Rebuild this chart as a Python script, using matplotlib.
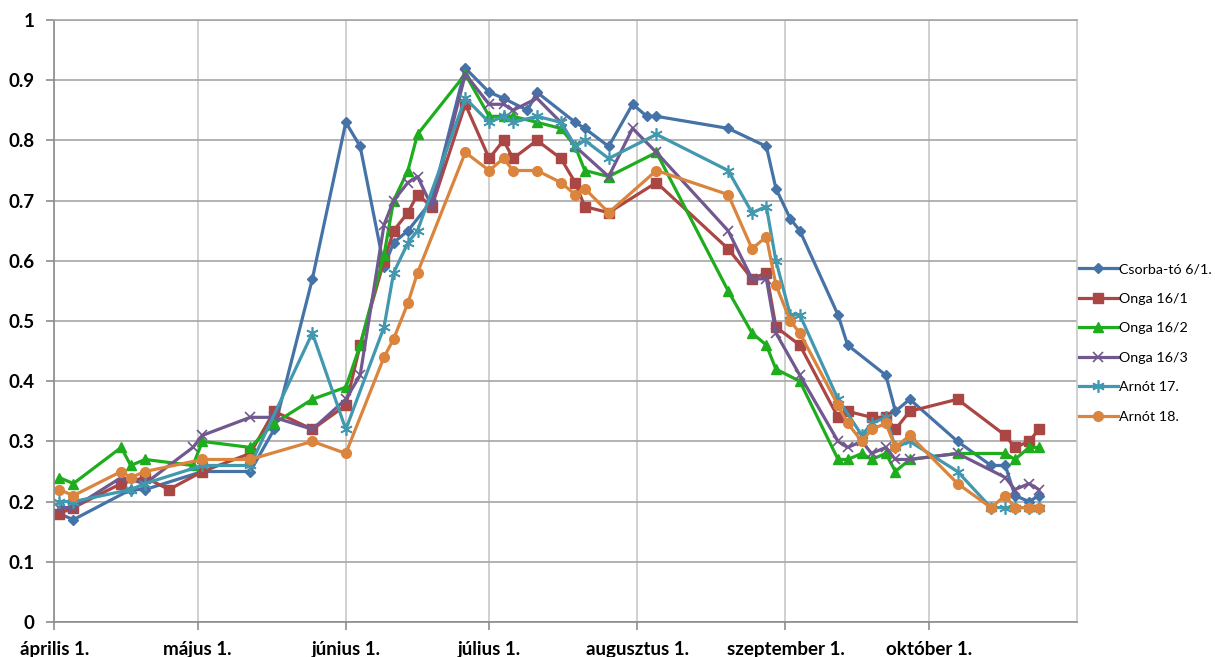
import numpy as np
import pandas as pd
import matplotlib
matplotlib.use("Agg")
import matplotlib.pyplot as plt
from matplotlib.ticker import FuncFormatter

plt.rcParams['font.family'] = ['Lato', 'DejaVu Sans']

# sampling dates (month-day)
dates = ["04-02", "04-05", "04-15", "04-17", "04-20", "04-25", "04-30", "05-02",
         "05-12", "05-17", "05-25", "06-01", "06-04", "06-09", "06-11", "06-14",
         "06-16", "06-19", "06-26", "07-01", "07-04", "07-06", "07-09", "07-11",
         "07-16", "07-19", "07-21", "07-26", "07-31", "08-03", "08-05", "08-20",
         "08-25", "08-28", "08-30", "09-02", "09-04", "09-12", "09-14", "09-17",
         "09-19", "09-22", "09-24", "09-27", "10-07", "10-14", "10-17", "10-19",
         "10-22", "10-24"]

N = None
csorba = [0.18, 0.17, N, 0.22, 0.22, N, N, 0.25, 0.25, 0.32, 0.57, 0.83, 0.79, 0.59,
          0.63, 0.65, N, 0.70, 0.92, 0.88, 0.87, N, 0.85, 0.88, N, 0.83, 0.82, 0.79,
          0.86, 0.84, 0.84, 0.82, N, 0.79, 0.72, 0.67, 0.65, 0.51, 0.46, N, N, 0.41,
          0.35, 0.37, 0.30, 0.26, 0.26, 0.21, 0.20, 0.21]
onga1 = [0.18, 0.19, 0.23, N, 0.24, 0.22, N, 0.25, 0.28, 0.35, 0.32, 0.36, 0.46, 0.60,
         0.65, 0.68, 0.71, 0.69, 0.86, 0.77, 0.80, 0.77, N, 0.80, 0.77, 0.73, 0.69, 0.68,
         N, N, 0.73, 0.62, 0.57, 0.58, 0.49, N, 0.46, 0.34, 0.35, N, 0.34, 0.34,
         0.32, 0.35, 0.37, N, 0.31, 0.29, 0.30, 0.32]
onga2 = [0.24, 0.23, 0.29, 0.26, 0.27, N, 0.26, 0.30, 0.29, 0.33, 0.37, 0.39, 0.46, 0.61,
         0.70, 0.75, 0.81, N, 0.91, 0.84, 0.84, 0.84, N, 0.83, 0.82, 0.79, 0.75, 0.74,
         N, N, 0.78, 0.55, 0.48, 0.46, 0.42, N, 0.40, 0.27, 0.27, 0.28, 0.27, 0.28,
         0.25, 0.27, 0.28, N, 0.28, 0.27, 0.29, 0.29]
onga3 = [0.19, 0.19, 0.24, N, 0.23, N, 0.29, 0.31, 0.34, 0.34, 0.32, 0.37, 0.41, 0.66,
         0.70, 0.73, 0.74, 0.69, 0.91, 0.86, 0.86, 0.85, N, 0.87, 0.83, 0.79, N, 0.74,
         0.82, N, 0.78, 0.65, 0.57, 0.57, 0.48, N, 0.41, 0.30, 0.29, 0.30, 0.28, 0.29,
         0.27, 0.27, 0.28, N, 0.24, 0.22, 0.23, 0.22]
arnot17 = [0.20, 0.20, N, 0.22, 0.23, N, N, 0.26, 0.26, N, 0.48, 0.32, N, 0.49,
           0.58, 0.63, 0.65, N, 0.87, 0.83, 0.84, 0.83, N, 0.84, 0.83, 0.79, 0.80, 0.77,
           N, N, 0.81, 0.75, 0.68, 0.69, 0.60, 0.51, 0.51, 0.37, N, 0.31, 0.33, 0.34,
           0.29, 0.30, 0.25, 0.19, 0.19, 0.19, 0.19, 0.19]
arnot18 = [0.22, 0.21, 0.25, 0.24, 0.25, N, N, 0.27, 0.27, N, 0.30, 0.28, N, 0.44,
           0.47, 0.53, 0.58, N, 0.78, 0.75, 0.77, 0.75, N, 0.75, 0.73, 0.71, 0.72, 0.68,
           N, N, 0.75, 0.71, 0.62, 0.64, 0.56, 0.50, 0.48, 0.36, 0.33, 0.30, 0.32, 0.33,
           0.29, 0.31, 0.23, 0.19, 0.21, 0.19, 0.19, 0.19]

labels = ["Csorba-tó 6/1.", "Onga 16/1", "Onga 16/2", "Onga 16/3", "Arnót 17.", "Arnót 18."]
month_labels = ["április 1.", "május 1.", "június 1.", "július 1.",
                "augusztus 1.", "szeptember 1.", "október 1."]

idx = pd.to_datetime(["2015-" + d for d in dates])
df = pd.DataFrame({labels[0]: csorba, labels[1]: onga1, labels[2]: onga2,
                   labels[3]: onga3, labels[4]: arnot17, labels[5]: arnot18},
                  index=idx, dtype=float)

styles = [
    dict(color='#4572A7', marker='D', ms=5.5),
    dict(color='#AA4643', marker='s', ms=7),
    dict(color='#1DAD1D', marker='^', ms=7.5),
    dict(color='#71588F', marker='x', ms=7, mew=1.2),
    dict(color='#4198AF', marker=(6, 2, 0), ms=9, mew=1.2),
    dict(color='#DB843D', marker='o', ms=7),
]

fig = plt.figure(figsize=(12.15, 6.57), dpi=100)
ax = fig.add_axes([54.3/1215, 35/657, (1077-54.3)/1215, 602/657])

for name, st in zip(labels, styles):
    s = df[name].dropna()
    ax.plot(s.index, s.values, lw=2.3, label=name, **st)

month_starts = pd.date_range("2015-04-01", "2015-10-01", freq="MS")
ax.set_xlim(pd.Timestamp("2015-04-01"), pd.Timestamp("2015-11-01"))
ax.set_ylim(0, 1)
ax.set_xticks(month_starts)
ax.set_xticklabels(month_labels)
ax.set_yticks(np.arange(0, 1.01, 0.1))
ax.yaxis.set_major_formatter(FuncFormatter(lambda v, p: f"{v:.1f}".rstrip('0').rstrip('.') if v else "0"))

ax.xaxis.grid(True, color='#C8C8C8', lw=1.2)
ax.yaxis.grid(True, color='#A6A6A6', lw=1.2)
ax.set_axisbelow(True)
ax.spines['right'].set_color('#C8C8C8')
ax.spines['top'].set_color('#A6A6A6')
ax.spines['left'].set_color('#8C8C8C')
ax.spines['bottom'].set_color('#8C8C8C')
for sp in ax.spines.values():
    sp.set_linewidth(1.2)

ax.tick_params(axis='both', color='#8C8C8C', length=6, width=1.2)
ax.tick_params(axis='y', labelsize=13.5, pad=8)
ax.tick_params(axis='x', labelsize=13.5, pad=8)
for t in ax.get_xticklabels() + ax.get_yticklabels():
    t.set_fontweight('bold')

# legend to the right of the plot area
fig.legend(loc='center left', bbox_to_anchor=(1079/1215, (657 - 343)/657), frameon=False,
           fontsize=10.3, handlelength=2.7, labelspacing=1.22, handletextpad=0.12,
           borderaxespad=0, borderpad=0)

fig.savefig("out.png", dpi=100)
